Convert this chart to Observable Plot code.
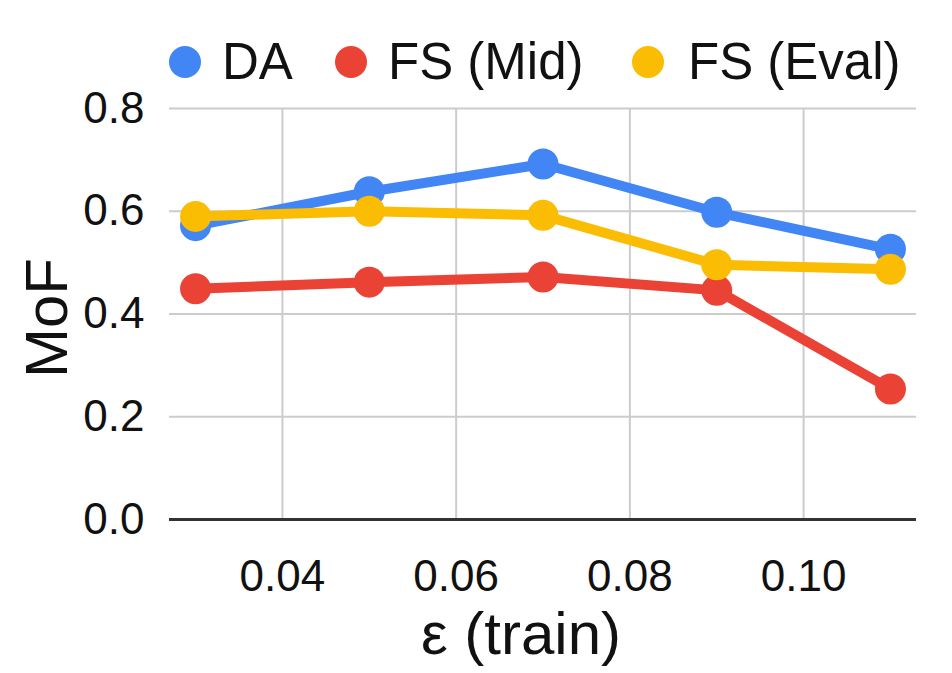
<!DOCTYPE html>
<html>
<head>
<meta charset="utf-8">
<script src="https://cdn.jsdelivr.net/npm/d3@7"></script>
<script src="https://cdn.jsdelivr.net/npm/@observablehq/plot@0.6"></script>
<style>
  html, body { margin: 0; padding: 0; background: #fff; }
  body { width: 952px; height: 673px; overflow: hidden; font-family: "Liberation Sans", Arial, sans-serif; color: #111; }
  #legend { position: relative; height: 100px; width: 952px; }
  .lg-dot { position: absolute; width: 32px; height: 32px; border-radius: 50%; top: 46px; }
  .lg-txt { position: absolute; top: 32px; font-size: 51px; line-height: 60px; white-space: nowrap; }
  svg { display: block; }
</style>
</head>
<body>
<div id="legend"></div>
<div id="chart"></div>
<script>
// ---- data ----
const epsilon = [0.03, 0.05, 0.07, 0.09, 0.11];
const daValues = [0.572, 0.638, 0.692, 0.598, 0.526];
const fsMidValues = [0.449, 0.462, 0.472, 0.446, 0.254];
const fsEvalValues = [0.590, 0.600, 0.592, 0.496, 0.487];
const seriesNames = ["DA", "FS (Mid)", "FS (Eval)"];
const seriesColors = ["#4285F4", "#EA4335", "#FBBC04"];
const xTicks = [0.04, 0.06, 0.08, 0.10];
const yTicks = [0.0, 0.2, 0.4, 0.6, 0.8];

const seriesValues = [daValues, fsMidValues, fsEvalValues];
const rows = seriesNames.flatMap((name, s) =>
  epsilon.map((e, i) => ({series: name, eps: e, value: seriesValues[s][i]})));

// ---- legend ----
const legend = document.getElementById("legend");
const legendDotLeft = [169, 335, 632];
const legendTextLeft = [222, 388, 688];
seriesNames.forEach((name, i) => {
  const d = document.createElement("div");
  d.className = "lg-dot";
  d.style.left = legendDotLeft[i] + "px";
  d.style.background = seriesColors[i];
  legend.appendChild(d);
  const t = document.createElement("div");
  t.className = "lg-txt";
  t.style.left = legendTextLeft[i] + "px";
  t.textContent = name;
  legend.appendChild(t);
});

// ---- chart ----
const marks = [
  Plot.gridX(xTicks, {stroke: "#cccccc", strokeOpacity: 1, strokeWidth: 2}),
  Plot.gridY(yTicks.filter(v => v > 0), {stroke: "#cccccc", strokeOpacity: 1, strokeWidth: 2}),
  Plot.ruleY([0], {stroke: "#333333", strokeWidth: 3}),
  Plot.axisX(xTicks, {tickSize: 0, tickPadding: 40, tickFormat: d3.format(".2f"), fontSize: 44, label: null, fill: "#111"}),
  Plot.axisY(yTicks, {tickSize: 0, tickPadding: 25, tickFormat: d3.format(".1f"), fontSize: 44, label: null, fill: "#111"}),
  Plot.text(["ε (train)"], {frameAnchor: "bottom", dy: 115, dx: -22, textAnchor: "middle", lineAnchor: "middle", fontSize: 60, fill: "#111"}),
  Plot.text(["MoF"], {frameAnchor: "left", dx: -122, dy: 4, rotate: -90, textAnchor: "middle", lineAnchor: "middle", fontSize: 60, fill: "#111"})
];
seriesNames.forEach((name, i) => {
  const data = rows.filter(r => r.series === name);
  marks.push(Plot.line(data, {x: "eps", y: "value", stroke: seriesColors[i], strokeWidth: 10, strokeLinejoin: "round", strokeLinecap: "round"}));
  marks.push(Plot.dot(data, {x: "eps", y: "value", r: 15.5, fill: seriesColors[i], stroke: "none"}));
});

const chart = Plot.plot({
  width: 952,
  height: 573,
  marginLeft: 169,
  marginRight: 36,
  marginTop: 8,
  marginBottom: 154,
  style: {fontFamily: "'Liberation Sans', Arial, sans-serif", background: "#fff", overflow: "visible"},
  x: {domain: [0.027, 0.113], axis: null},
  y: {domain: [0, 0.8], axis: null},
  marks
});
document.getElementById("chart").appendChild(chart);
</script>
</body>
</html>
